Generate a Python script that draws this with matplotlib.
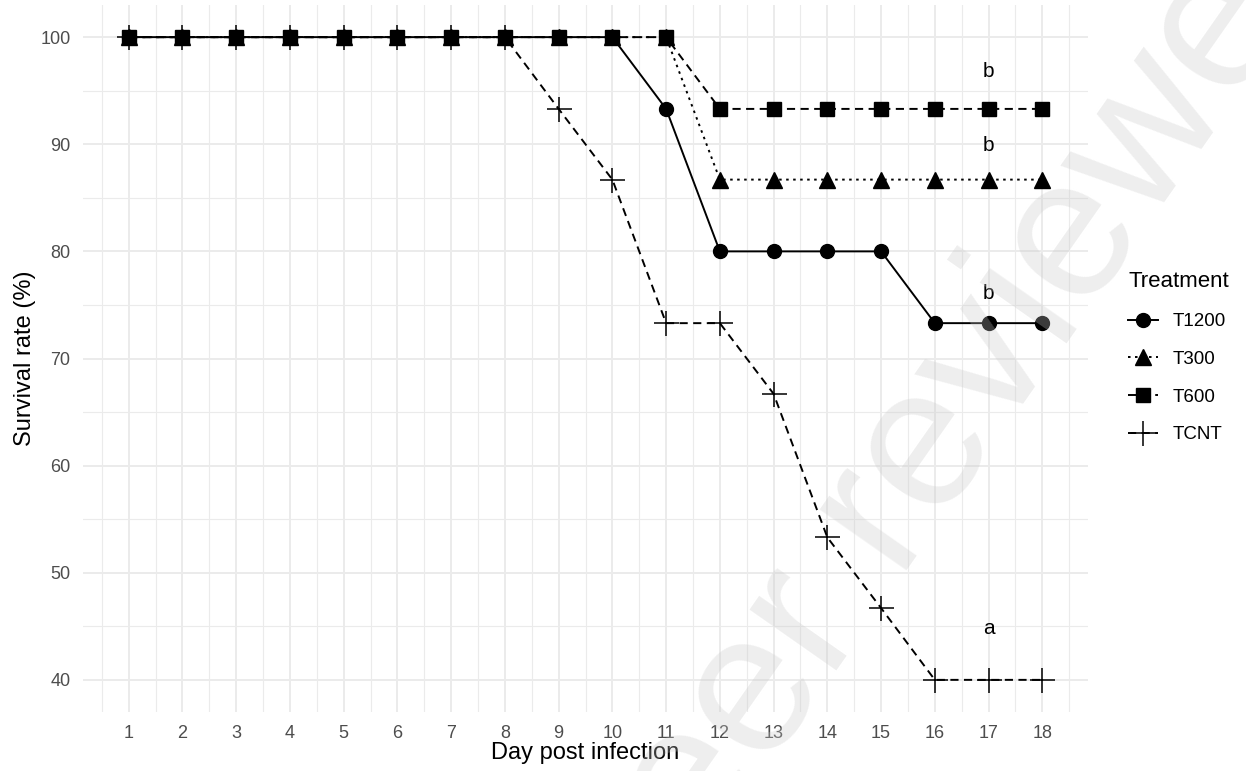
import numpy as np
import matplotlib
matplotlib.use('Agg')
import matplotlib.pyplot as plt
from matplotlib.lines import Line2D
from matplotlib.ticker import FixedLocator

plt.rcParams['font.family'] = ['Liberation Sans', 'DejaVu Sans']

# Data
days = np.arange(1, 19)
t1200 = [100, 100, 100, 100, 100, 100, 100, 100, 100, 100, 93.3, 80, 80, 80, 80, 73.3, 73.3, 73.3]
t300 = [100, 100, 100, 100, 100, 100, 100, 100, 100, 100, 100, 86.7, 86.7, 86.7, 86.7, 86.7, 86.7, 86.7]
t600 = [100, 100, 100, 100, 100, 100, 100, 100, 100, 100, 100, 93.3, 93.3, 93.3, 93.3, 93.3, 93.3, 93.3]
tcnt = [100, 100, 100, 100, 100, 100, 100, 100, 93.3, 86.7, 73.3, 73.3, 66.7, 53.3, 46.7, 40, 40, 40]

labels = ['T1200', 'T300', 'T600', 'TCNT']
series = [t1200, t300, t600, tcnt]

# significance letters at day 17
letter_x = [17, 17, 17, 17]
letter_y = [96.8, 89.9, 76.1, 44.8]
letters = ['b', 'b', 'b', 'a']

styles = {
    'T1200': dict(ls='-', marker='o', ms=10, mew=1),
    'T300': dict(ls=(0, (1.3, 2.3)), marker='^', ms=11, mew=1),
    'T600': dict(ls=(0, (4.2, 2.8)), marker='s', ms=9.5, mew=1),
    'TCNT': dict(ls=(0, (4.2, 2.8)), marker='+', ms=18, mew=1.1),
}

W, H = 1246, 771
fig = plt.figure(figsize=(W / 100, H / 100), dpi=100)
ax = fig.add_axes([83 / W, 59 / H, 1005 / W, 707 / H])

# lines first, then points (like ggplot geom_line + geom_point)
for lab, ys in zip(labels, series):
    st = styles[lab]
    ax.plot(days, ys, color='black', lw=1.4, ls=st['ls'], zorder=3)
for lab, ys in zip(labels, series):
    st = styles[lab]
    ax.plot(days, ys, color='black', ls='none', marker=st['marker'],
            ms=st['ms'], mew=st['mew'], zorder=4)

for x, y, t in zip(letter_x, letter_y, letters):
    ax.text(x, y, t, fontsize=15, ha='center', va='center', color='black', zorder=5)

ax.set_xlim(0.15, 18.85)
ax.set_ylim(37, 103)
ax.set_xticks(days)
ax.set_yticks(np.arange(40, 101, 10))
ax.xaxis.set_minor_locator(FixedLocator(np.arange(0.5, 19, 1)))
ax.yaxis.set_minor_locator(FixedLocator(np.arange(35, 101, 10)))
ax.grid(which='major', color='#ebebeb', lw=1.4)
ax.grid(which='minor', color='#ebebeb', lw=0.8)
ax.set_axisbelow(True)
for s in ax.spines.values():
    s.set_visible(False)
ax.tick_params(which='both', length=0, labelsize=13, labelcolor='#4d4d4d')
ax.tick_params(axis='x', pad=9)
ax.tick_params(axis='y', pad=9)

ax.set_xlabel('Day post infection', fontsize=17, labelpad=0)
ax.set_ylabel('Survival rate (%)', fontsize=17, labelpad=3)

handles = []
for lab in labels:
    st = styles[lab]
    handles.append(Line2D([], [], color='black', lw=1.4, ls=st['ls'], marker=st['marker'],
                          ms=st['ms'], mew=st['mew']))
leg = ax.legend(handles, labels, title='Treatment', loc='upper left',
                bbox_to_anchor=(1119 / W, 1 - 262 / H), bbox_transform=fig.transFigure,
                frameon=False, fontsize=13.5, title_fontsize=16, borderpad=0,
                handlelength=1.6, handletextpad=0.75, labelspacing=1.1, alignment='left')

# watermark overlay
fig.text(0.343, -0.627, 'Not peer reviewed', fontsize=144, rotation=55,
         rotation_mode='anchor', ha='left', va='baseline',
         color=(0.78, 0.78, 0.78), alpha=0.3, zorder=10)

fig.savefig('out.png', dpi=100)
